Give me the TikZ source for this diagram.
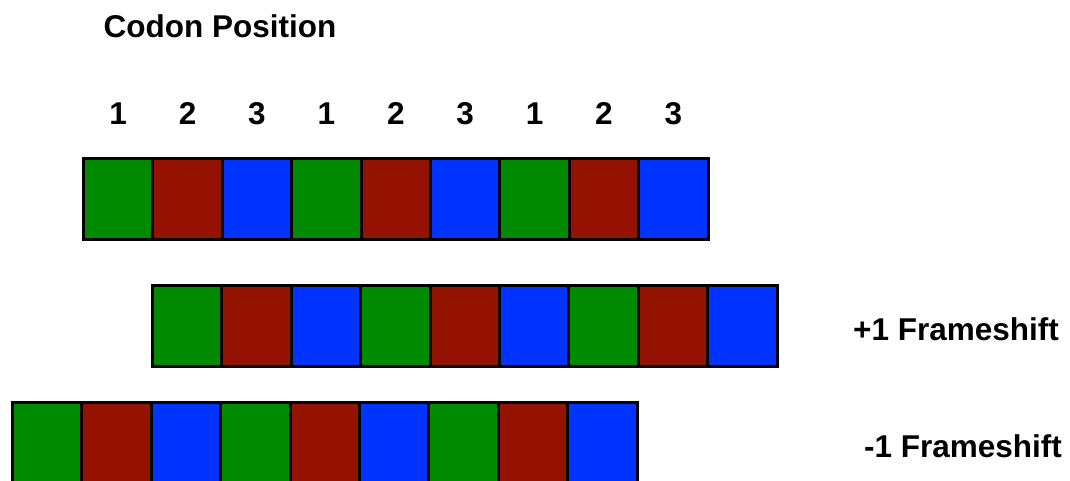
\documentclass[tikz,border=0pt]{standalone}
\usepackage{fontspec}
\setmainfont{Liberation Sans}
\usetikzlibrary{positioning}
\definecolor{cellcolor0}{HTML}{008A00}
\definecolor{cellcolor1}{HTML}{951200}
\definecolor{cellcolor2}{HTML}{0033FF}
\tikzset{
  cell/.style={draw=black,line width=3pt,minimum width=69.4pt,minimum height=81pt,inner sep=0pt,outer sep=0pt,anchor=north west},
  lbl/.style={font=\fontsize{31.5}{35}\selectfont\bfseries,inner sep=0pt,anchor=base}
}
\begin{document}
\begin{tikzpicture}[x=1pt,y=-1pt]
\useasboundingbox (0,0) rectangle (1070,481);
\clip (0,0) rectangle (1070,481);
\node[lbl] (title) at (220,38) {Codon Position};
% three reading frames
\foreach \i [evaluate=\i as \k using {int(mod(\i,3))}] in {0,...,8}{
  \node[cell,fill=cellcolor\k] (ra\i) at (83.5+69.4*\i,158.5) {};
  \node[cell,fill=cellcolor\k] (rb\i) at (152.5+69.4*\i,285.5) {};
  \node[cell,fill=cellcolor\k] (rc\i) at (12.5+69.4*\i,402.5) {};
  \pgfmathtruncatemacro{\pos}{\k+1}
  \node[lbl] (n\i) at (118.2+69.4*\i,125) {\pos};
}
\node[lbl] (plus) at (956,340) {+1 Frameshift};
\node[lbl] (minus) at (963,457) {-1 Frameshift};
\end{tikzpicture}
\end{document}
